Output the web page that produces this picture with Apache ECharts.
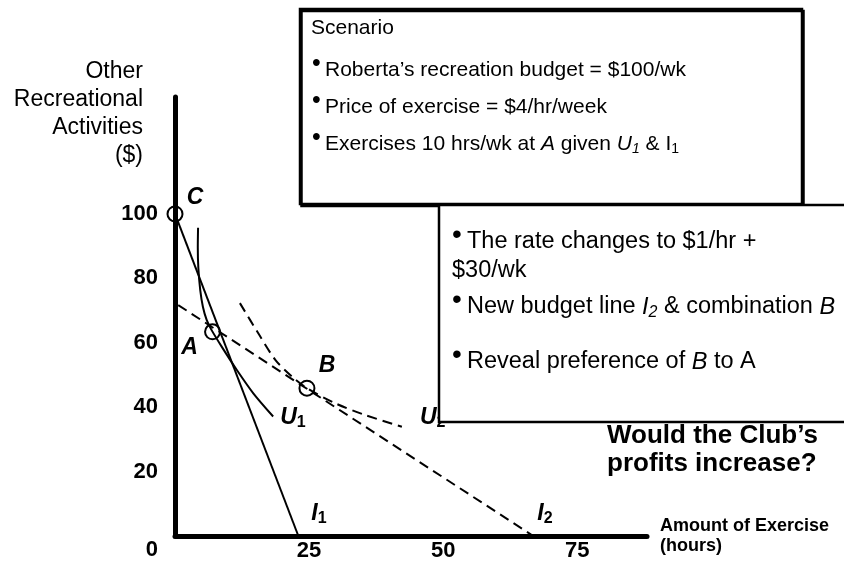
<!DOCTYPE html>
<html><head><meta charset="utf-8">
<script src="https://cdn.jsdelivr.net/npm/echarts@6/dist/echarts.min.js"></script>
<style>html,body{margin:0;padding:0;background:#fff}#c{width:844px;height:562px}</style>
</head><body><div id="c"></div>
<script>
// ---- data ----
const xTickValues = [25, 50, 75];
const yTickValues = [0, 20, 40, 60, 80, 100];
const budgetI1 = [[0, 100], [23, 0]];
const budgetI2 = [[0.6, 71.7], [66.8, 0]];
const curveU1 = [[4.3, 95.7], [4.25, 89.5], [4.35, 83.3], [4.7, 76.4], [5.2, 71.2], [5.9, 67.1], [6.8, 64.0], [8.7, 58.8], [11.5, 51.6], [14.6, 44.3], [18.3, 37.1]];
const curveU2 = [[12.1, 72.3], [15.5, 63.0], [18.7, 54.7], [21.8, 49.5], [24.6, 45.9], [29.9, 41.2], [35.4, 37.6], [42.3, 33.9]];
const pointNames = ['C', 'A', 'B'];
const pointValues = [[0, 100], [7, 63.4], [24.6, 45.9]];
const xAxisName = 'Amount of Exercise\n(hours)';
const yAxisName = 'Other\nRecreational\nActivities\n($)';
const scenarioTitle = 'Scenario';
const scenarioLines = [
  '{t|Roberta’s recreation budget = $100/wk}',
  '{t|Price of exercise = $4/hr/week}',
  '{t|Exercises 10 hrs/wk at }{i|A}{t| given }{i|U}{is|1}{t| & I}{s|1}'
];
const scenarioBullets = [true, true, true];
const changeLines = [
  '{t|The rate changes to $1/hr +}',
  '{t|$30/wk}',
  '{t|New budget line }{i|I}{is|2}{t| & combination }{i|B}',
  '{t|Reveal preference of }{i|B}{t| to A}'
];
const changeBullets = [true, false, true, true];
const questionText = 'Would the Club’s\nprofits increase?';

// ---- styling ----
const FONT = '"Liberation Sans", Arial, sans-serif';
const markRich = {
  i: {fontFamily: FONT, fontSize: 23, fontWeight: 'bold', fontStyle: 'italic', color: '#000', lineHeight: 26},
  s: {fontFamily: FONT, fontSize: 16, fontWeight: 'bold', color: '#000', lineHeight: 16, verticalAlign: 'bottom'}
};
function boxRich(fs) {
  const lh = Math.round(fs * 1.2);
  return {
    t: {fontFamily: FONT, fontSize: fs, fill: '#000', lineHeight: lh},
    i: {fontFamily: FONT, fontSize: fs, fontStyle: 'italic', fill: '#000', lineHeight: lh},
    s: {fontFamily: FONT, fontSize: Math.round(fs * 0.66), fill: '#000', lineHeight: Math.round(fs * 0.66), verticalAlign: 'bottom'},
    is: {fontFamily: FONT, fontSize: Math.round(fs * 0.66), fontStyle: 'italic', fill: '#000', lineHeight: Math.round(fs * 0.66), verticalAlign: 'bottom'}
  };
}
function textEl(x, y, text, fs) {
  return {type: 'text', x: x, y: y, z: 101,
    style: {text: text, rich: boxRich(fs), fontFamily: FONT, fontSize: fs, fill: '#000', align: 'left', verticalAlign: 'middle'}};
}
function bulletEl(x, y, fs) {
  return {type: 'text', x: x, y: y - fs * 0.3, z: 101,
    style: {text: '•', fontFamily: FONT, fontSize: Math.round(fs * 1.2), fill: '#000', align: 'left', verticalAlign: 'middle'}};
}
const scenarioY = [70, 107, 144];
const changeY = [242, 271, 307, 362];

const graphics = [
  {type: 'rect', z: 100, shape: {x: 300, y: 9, width: 502, height: 195},
   style: {fill: '#fff', stroke: '#000', lineWidth: 2.5, shadowColor: '#000', shadowOffsetX: 1.5, shadowOffsetY: 2, shadowBlur: 0}},
  {type: 'text', x: 311, y: 28, z: 101, style: {text: scenarioTitle, fontFamily: FONT, fontSize: 21, fill: '#000', align: 'left', verticalAlign: 'middle'}},
  {type: 'rect', z: 100, shape: {x: 439, y: 205, width: 420, height: 217},
   style: {fill: '#fff', stroke: '#000', lineWidth: 2.5}},
  {type: 'text', x: 607, y: 450, z: 101, style: {text: questionText, fontFamily: FONT, fontSize: 26, fontWeight: 'bold', lineHeight: 28, fill: '#000', align: 'left', verticalAlign: 'middle'}}
];
scenarioLines.forEach((t, k) => {
  if (scenarioBullets[k]) graphics.push(bulletEl(312, scenarioY[k], 21));
  graphics.push(textEl(325, scenarioY[k], t, 21));
});
changeLines.forEach((t, k) => {
  if (changeBullets[k]) graphics.push(bulletEl(452, changeY[k], 23.5));
  graphics.push(textEl(changeBullets[k] ? 467 : 452, changeY[k], t, 23.5));
});

function endLab(txt, off) {
  return {show: true, formatter: txt, rich: markRich, position: 'right', distance: 5, offset: off, align: 'left', verticalAlign: 'middle'};
}

const chart = echarts.init(document.getElementById('c'), null, {renderer: 'canvas'});
chart.setOption({
  backgroundColor: '#fff',
  animation: false,
  grid: {left: 175, right: 197, top: 97, bottom: 26, containLabel: false},
  xAxis: {
    type: 'value', min: 0, max: 88,
    name: xAxisName, nameLocation: 'end', nameGap: 13,
    nameTextStyle: {fontFamily: FONT, fontSize: 18, fontWeight: 'bold', color: '#000', lineHeight: 20, align: 'left', verticalAlign: 'middle', padding: [10, 0, 0, 0]},
    axisLine: {show: true, onZero: false, lineStyle: {color: '#000', width: 5}},
    axisTick: {show: false},
    splitLine: {show: false},
    axisLabel: {customValues: xTickValues, margin: 4, fontFamily: FONT, fontSize: 22, fontWeight: 'bold', color: '#000'}
  },
  yAxis: {
    type: 'value', min: 0, max: 136.3,
    name: yAxisName, nameLocation: 'end', nameGap: 39,
    nameTextStyle: {fontFamily: FONT, fontSize: 23, color: '#000', lineHeight: 28, align: 'right', verticalAlign: 'top', padding: [0, 32, 0, 0]},
    axisLine: {show: true, onZero: false, lineStyle: {color: '#000', width: 5}},
    axisTick: {show: false},
    splitLine: {show: false},
    axisLabel: {customValues: yTickValues, margin: 17, fontFamily: FONT, fontSize: 22, fontWeight: 'bold', color: '#000',
      formatter: v => v === 0 ? '{z|0}' : String(v),
      rich: {z: {fontFamily: FONT, fontSize: 22, fontWeight: 'bold', color: '#000', padding: [28, 0, 0, 0]}}}
  },
  graphic: graphics,
  series: [
    {type: 'line', name: 'I1', data: budgetI1, symbol: 'none', lineStyle: {color: '#000', width: 2},
     endLabel: endLab('{i|I}{s|1}', [8, -22])},
    {type: 'line', name: 'I2', data: budgetI2, symbol: 'none', lineStyle: {color: '#000', width: 2, type: [10, 6]},
     endLabel: endLab('{i|I}{s|2}', [-1, -22])},
    {type: 'line', name: 'U1', data: curveU1, symbol: 'none', smooth: 0.3, lineStyle: {color: '#000', width: 2},
     endLabel: endLab('{i|U}{s|1}', [2, 1])},
    {type: 'line', name: 'U2', data: curveU2, symbol: 'none', smooth: 0.3, lineStyle: {color: '#000', width: 2, type: [10, 6]},
     endLabel: endLab('{i|U}{s|2}', [13, -9])},
    {type: 'scatter', name: 'points', symbol: 'circle', symbolSize: 15, z: 5,
     itemStyle: {color: 'rgba(0,0,0,0)', borderColor: '#000', borderWidth: 2, opacity: 1},
     data: pointValues.map((v, k) => ({
       value: v, name: pointNames[k],
       label: {show: true, formatter: '{i|' + pointNames[k] + '}', rich: markRich, position: 'inside',
               offset: [[20, -16], [-23, 16], [20, -23]][k]}
     }))}
  ]
});
</script></body></html>
